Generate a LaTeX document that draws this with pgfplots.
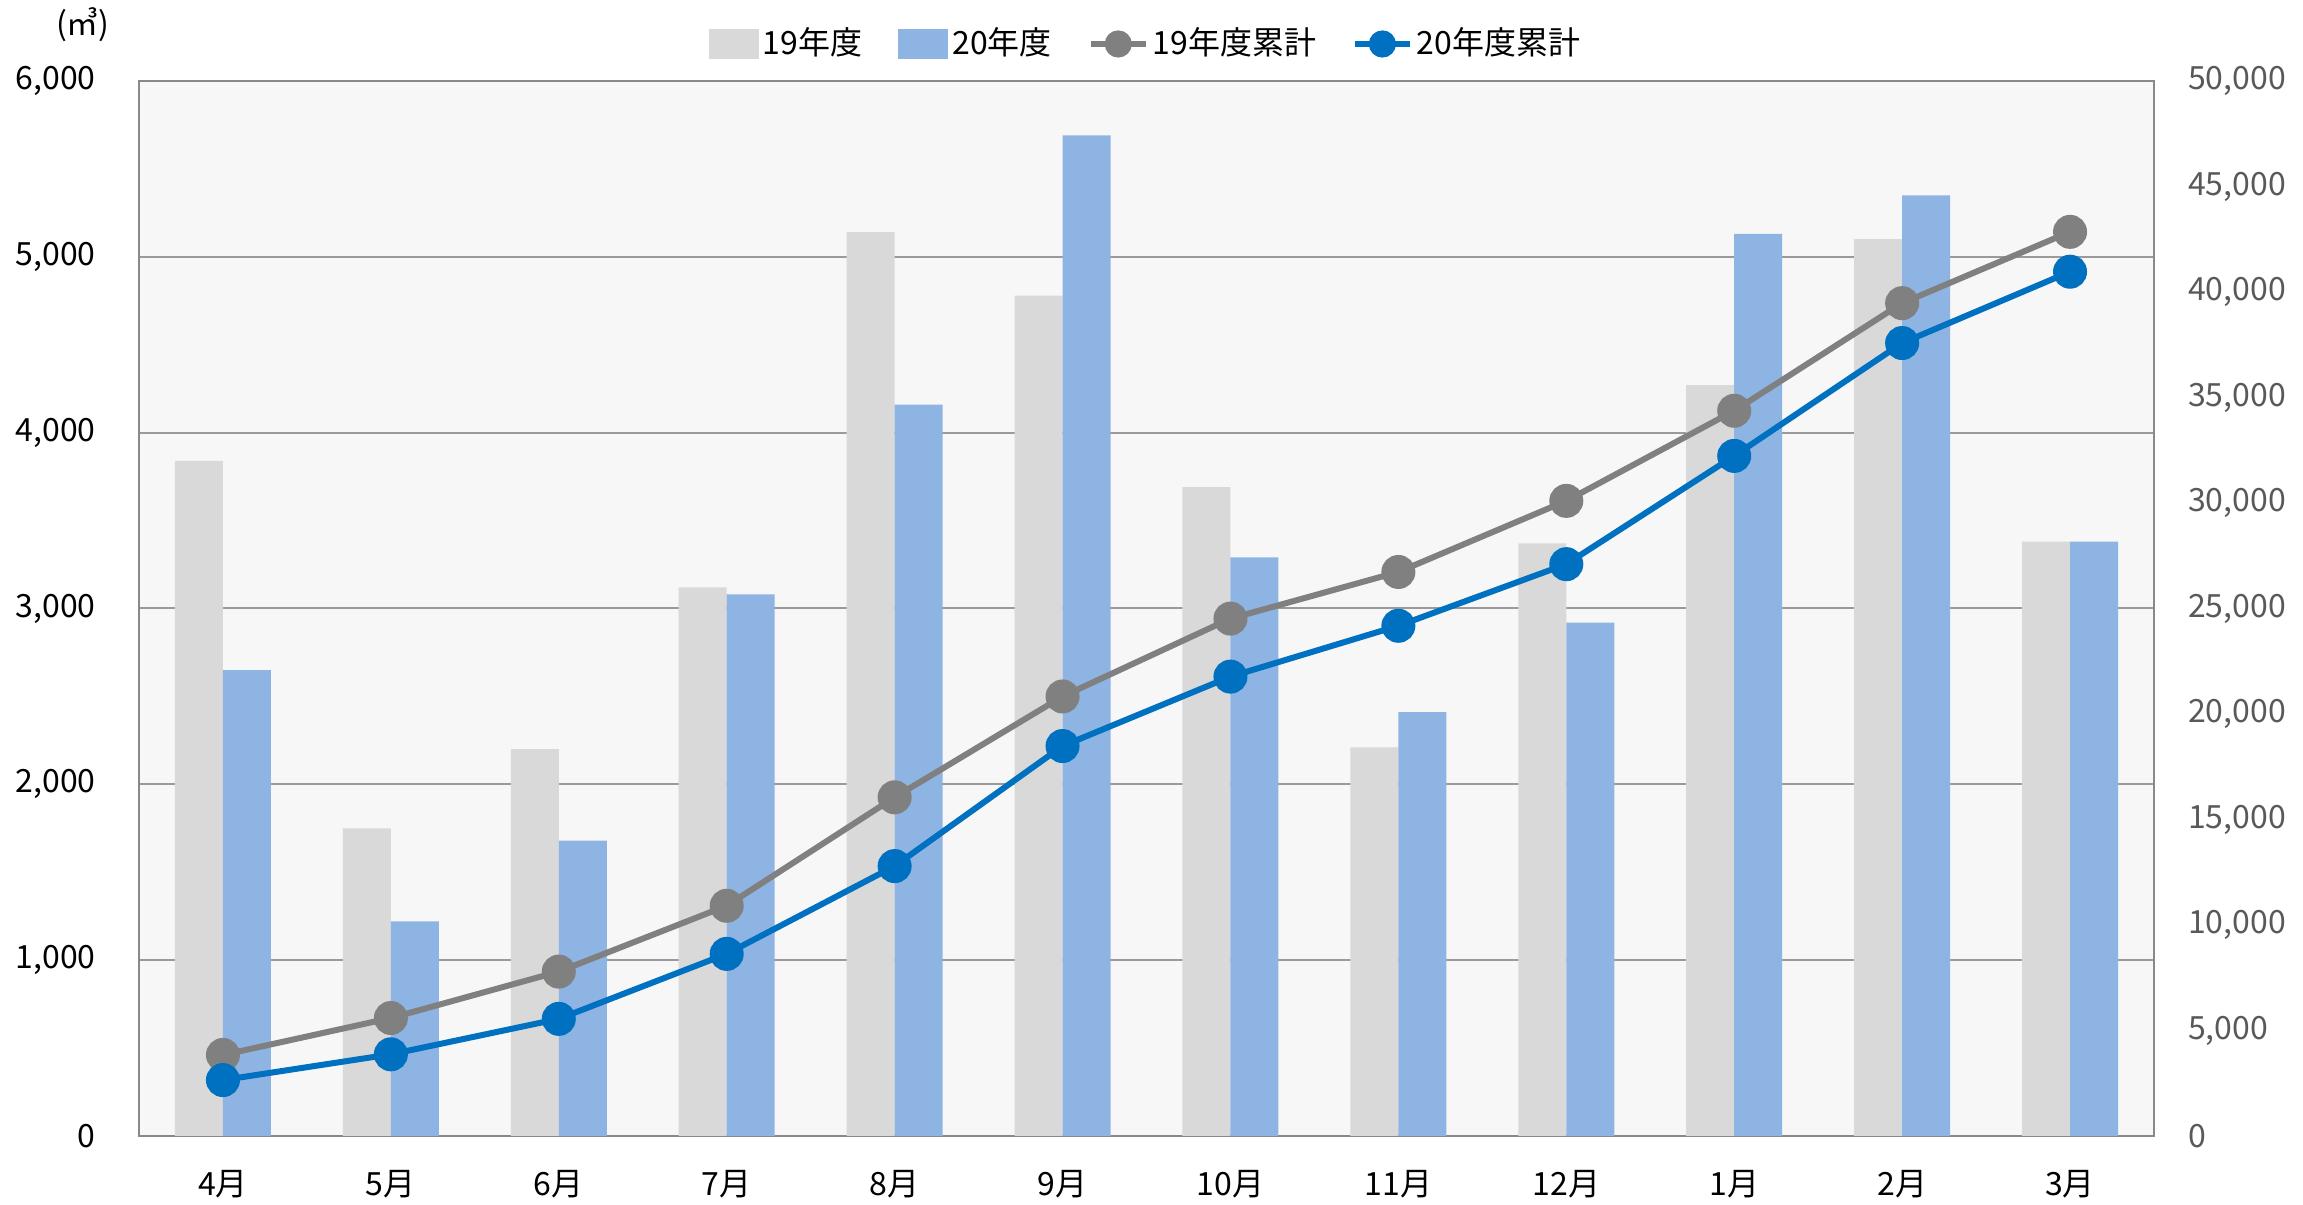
\documentclass[border=0pt]{standalone}
\usepackage{fontspec}
\setmainfont{Noto Sans CJK JP}
\usepackage{pgfplots}
\pgfplotsset{compat=1.18}

\definecolor{bargray}{HTML}{D9D9D9}
\definecolor{barblue}{HTML}{8EB4E3}
\definecolor{linegray}{HTML}{808080}
\definecolor{lineblue}{HTML}{0070C0}
\definecolor{bgcol}{HTML}{F7F7F7}
\definecolor{gridcol}{HTML}{9A9A9A}
\definecolor{axcol}{HTML}{898989}
\definecolor{rtick}{HTML}{595959}

\pgfplotsset{
  common/.style={
    scale only axis, width=503.75pt, height=263.75pt,
    at={(0,0)}, anchor=south west,
    xmin=-0.5, xmax=11.5,
    major tick length=0pt,
    scaled y ticks=false,
    tick label style={font=\fontsize{8}{9}\selectfont},
    /pgf/number format/assume math mode=true,
    /pgf/number format/fixed,
    /pgf/number format/1000 sep={,},
  },
}

\begin{document}
\begin{tikzpicture}
\useasboundingbox (-34.75pt,-17.25pt) rectangle (541pt,284pt);

\begin{axis}[
  common,
  ymin=0, ymax=6000,
  ytick={0,1000,...,6000},
  xtick={0,...,11},
  xticklabels={4月,5月,6月,7月,8月,9月,10月,11月,12月,1月,2月,3月},
  xticklabel style={yshift=-5pt},
  yticklabel style={xshift=-7.3pt, text=black},
  ymajorgrids,
  grid style={color=gridcol, line width=0.5pt},
  axis background/.style={fill=bgcol},
  axis line style={draw=axcol, line width=0.6pt},
  ybar=0pt, bar width=12pt,
  legend style={
    at={(0.5,1)}, anchor=center, yshift=9.25pt,
    draw=none, fill=none,
    legend columns=-1,
    font=\fontsize{8}{9}\selectfont,
    inner sep=0pt,
    nodes={inner sep=1pt},
    /tikz/every odd column/.append style={column sep=0pt},
    /tikz/every even column/.append style={column sep=8pt},
  },
]
\addplot[draw=none, fill=bargray,
  legend image code/.code={\fill[bargray] (0cm,-0.13cm) rectangle (0.44cm,0.13cm);}]
  coordinates {
    (0,3840) (1,1750) (2,2200) (3,3120) (4,5140) (5,4780)
    (6,3690) (7,2210) (8,3370) (9,4270) (10,5100) (11,3380)
  };
\addplot[draw=none, fill=barblue,
  legend image code/.code={\fill[barblue] (0cm,-0.13cm) rectangle (0.44cm,0.13cm);}]
  coordinates {
    (0,2650) (1,1220) (2,1680) (3,3080) (4,4160) (5,5690)
    (6,3290) (7,2410) (8,2920) (9,5130) (10,5350) (11,3380)
  };
\addlegendimage{legend image code/.code={
  \draw[linegray, line width=1.5pt] (0cm,0cm) -- (0.48cm,0cm);
  \fill[linegray] (0.24cm,0cm) circle (3.2pt);}}
\addlegendimage{legend image code/.code={
  \draw[lineblue, line width=1.5pt] (0cm,0cm) -- (0.48cm,0cm);
  \fill[lineblue] (0.24cm,0cm) circle (3.2pt);}}
\legend{19年度,20年度,19年度累計,20年度累計}
\end{axis}

\begin{axis}[
  common,
  ymin=0, ymax=50000,
  ytick={0,5000,...,50000},
  axis x line=none,
  axis y line*=right,
  axis line style={draw=none},
  xtick=\empty,
  yticklabel style={xshift=5pt, text=rtick},
]
\addplot[linegray, line width=1.5pt, mark=*, mark size=3.5pt,
  mark options={fill=linegray, draw=linegray}]
  coordinates {
    (0,3840) (1,5590) (2,7790) (3,10910) (4,16050) (5,20830)
    (6,24520) (7,26730) (8,30100) (9,34370) (10,39470) (11,42850)
  };
\addplot[lineblue, line width=1.5pt, mark=*, mark size=3.5pt,
  mark options={fill=lineblue, draw=lineblue}]
  coordinates {
    (0,2650) (1,3870) (2,5550) (3,8630) (4,12790) (5,18480)
    (6,21770) (7,24180) (8,27100) (9,32230) (10,37580) (11,40960)
  };
\end{axis}

\node[font=\fontsize{8}{9}\selectfont] at (-14pt,277.75pt) {(㎥)};
\end{tikzpicture}
\end{document}
